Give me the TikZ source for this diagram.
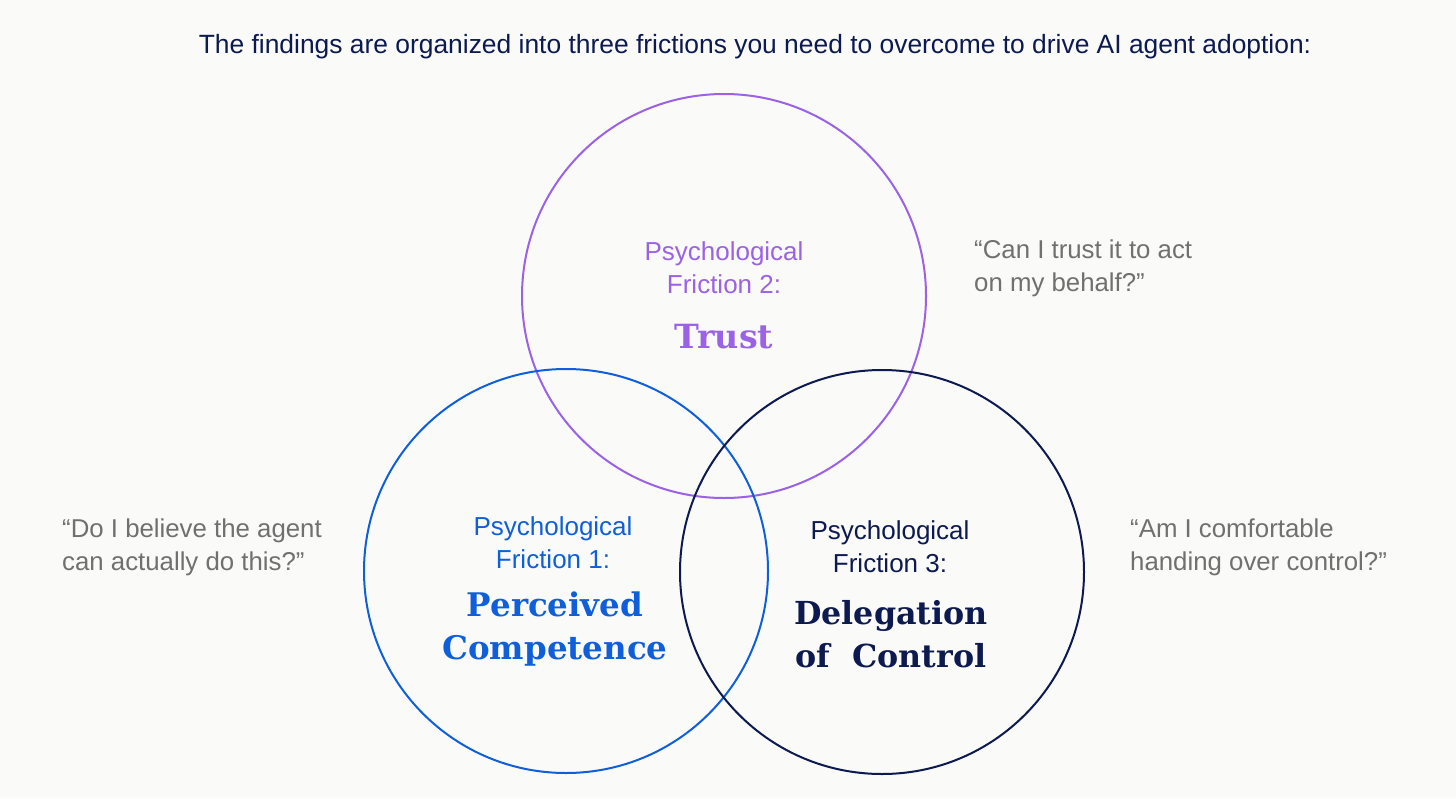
\documentclass[tikz,border=0pt]{standalone}
\usepackage{fontspec}
\setmainfont{Liberation Sans}
\newfontfamily\headfont{DejaVu Serif}
\definecolor{bgc}{HTML}{FAFAF9}
\definecolor{purp}{HTML}{9B62E6}
\definecolor{blu}{HTML}{0F5FDB}
\definecolor{navy}{HTML}{0C1A50}
\definecolor{grayq}{HTML}{707070}
\begin{document}
\begin{tikzpicture}[x=1pt,y=-1pt,
  ring/.style={draw,line width=2pt},
  sub/.style={align=center,font=\fontsize{26}{33}\selectfont,inner sep=0pt},
  head/.style={align=center,font=\headfont\bfseries\fontsize{32.5}{43}\selectfont,inner sep=0pt},
  quote/.style={align=left,anchor=west,text=grayq,font=\fontsize{25.8}{33}\selectfont,inner sep=0pt}]
\fill[bgc] (0,0) rectangle (1456,798);
\useasboundingbox (0,0) rectangle (1456,798);
\node[font=\fontsize{26.4}{30}\selectfont,text=navy,inner sep=0pt] (title) at (755,47) {The findings are organized into three frictions you need to overcome to drive AI agent adoption:};
\node[ring,draw=purp,circle,minimum size=404pt] (ct) at (724,296) {};
\node[ring,draw=blu,circle,minimum size=404pt] (cc) at (566,571) {};
\node[ring,draw=navy,circle,minimum size=404pt] (cd) at (882,572) {};
\node[sub,text=purp] (st) at (724,268) {Psychological\\Friction 2:};
\node[head,text=purp,font=\headfont\bfseries\fontsize{33.3}{43}\selectfont] (ht) at (724,337) {Trust};
\node[sub,text=blu] (sc) at (553,543) {Psychological\\Friction 1:};
\node[head,text=blu] (hc) at (555,629) {Perceived\\Competence};
\node[sub,text=navy] (sd) at (890,547) {Psychological\\Friction 3:};
\node[head,text=navy,font=\headfont\bfseries\fontsize{31.7}{43}\selectfont] (hd) at (891,634) {Delegation\\of\ \ Control};
\node[quote] (q1) at (62,547) {“Do I believe the agent\\can actually do this?”};
\node[quote] (q2) at (974,268) {“Can I trust it to act\\on my behalf?”};
\node[quote] (q3) at (1130,547) {“Am I comfortable\\handing over control?”};
\end{tikzpicture}
\end{document}
